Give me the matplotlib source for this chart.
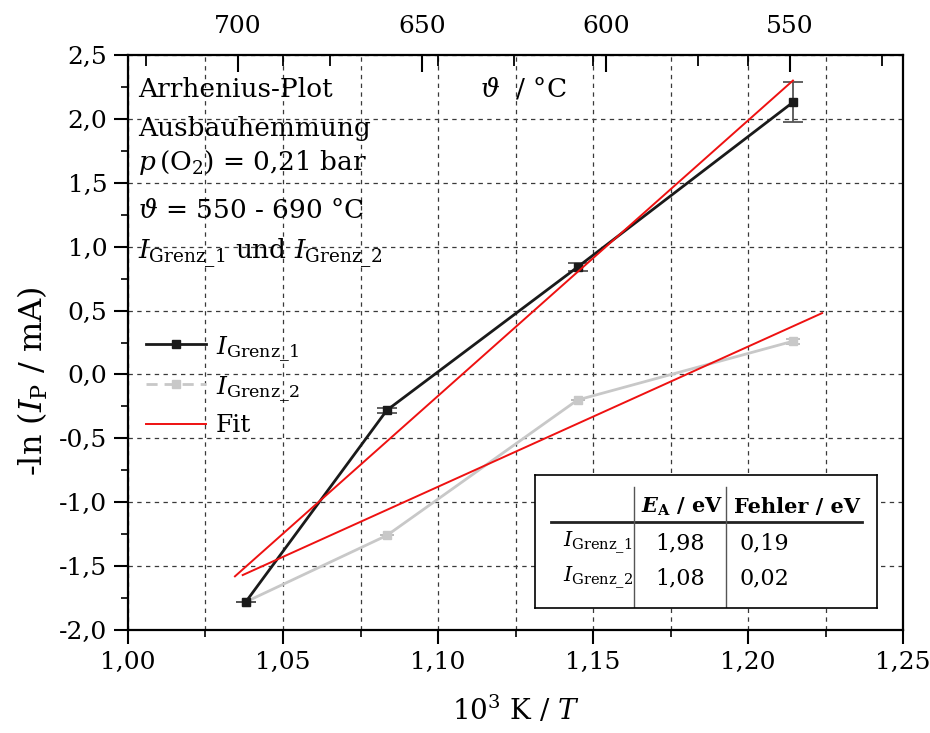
import matplotlib
matplotlib.use("Agg")
import matplotlib.pyplot as plt
from matplotlib.ticker import MultipleLocator, FuncFormatter, FixedLocator
from matplotlib.lines import Line2D

plt.rcParams['font.family'] = ['DejaVu Serif']
plt.rcParams['mathtext.fontset'] = 'dejavuserif'

# reciprocal temperature 10^3 K / T
x_vals = [1.038, 1.0835, 1.145, 1.2145]
# -ln(I_P / mA) for both limiting currents
y_grenz1 = [-1.78, -0.28, 0.84, 2.13]
y_grenz1_err = [0.0, 0.02, 0.03, 0.155]
y_grenz2 = [-1.78, -1.26, -0.20, 0.26]
y_grenz2_err = [0.0, 0.0, 0.0, 0.02]

# fitted Arrhenius lines (start / end)
fit1_x = [1.0345, 1.2145]
fit1_y = [-1.58, 2.30]
fit2_x = [1.037, 1.2239]
fit2_y = [-1.57, 0.48]

# upper axis: temperature in degC
temp_ticks = [700, 650, 600, 550]
temp_minor = [725, 675, 625, 575, 525]
temp_lim = (729.9, 519.3)

table_rows = ["Grenz\\_1", "Grenz\\_2"]
table_ea = ["1,98", "1,08"]
table_err = ["0,19", "0,02"]

fs_tick = 18
fs_text = 19

comma2 = FuncFormatter(lambda v, p: f"{v:.2f}".replace(".", ","))
comma1 = FuncFormatter(lambda v, p: f"{v:.1f}".replace(".", ","))

fig = plt.figure(figsize=(9.3, 7.33), dpi=100)
ax = fig.add_axes([128/930, 1-630/733, 775/930, 575/733])

ax.set_xlim(1.0, 1.25)
ax.set_ylim(-2.0, 2.5)
ax.xaxis.set_major_locator(MultipleLocator(0.05))
ax.xaxis.set_minor_locator(MultipleLocator(0.025))
ax.yaxis.set_major_locator(MultipleLocator(0.5))
ax.yaxis.set_minor_locator(MultipleLocator(0.25))
ax.xaxis.set_major_formatter(comma2)
ax.yaxis.set_major_formatter(comma1)

grid_kw = dict(color='#3a3a3a', linestyle=(0, (3.5, 3.5)), linewidth=0.9)
ax.grid(True, which='major', axis='both', **grid_kw)
ax.grid(True, which='minor', axis='x', **grid_kw)

for s in ax.spines.values():
    s.set_linewidth(1.6)
ax.tick_params(axis='both', which='major', labelsize=fs_tick, length=10, width=1.5,
               direction='out', pad=5)
ax.tick_params(axis='both', which='minor', length=5, width=1.2, direction='out')

# data series
ax.errorbar(x_vals, y_grenz1, yerr=y_grenz1_err, color='#1a1a1a', lw=2.0,
            marker='s', ms=6, ecolor='#555555', elinewidth=1.3, capsize=7, capthick=1.3, zorder=4)
ax.errorbar(x_vals, y_grenz2, yerr=y_grenz2_err, color='#c8c8c8', lw=2.0,
            marker='s', ms=6, ecolor='#bbbbbb', elinewidth=1.3, capsize=5, capthick=1.3, zorder=3)
ax.plot(fit1_x, fit1_y, color='#ee1111', lw=1.4, zorder=5)
ax.plot(fit2_x, fit2_y, color='#ee1111', lw=1.4, zorder=5)

ax.set_xlabel(r"10$^3$ K / $T$", fontsize=20, labelpad=15)
ax.set_ylabel(r"-ln ($I_{\mathrm{P}}$ / mA)", fontsize=23, va='center')
ax.yaxis.set_label_coords(-0.123, 0.433)

# temperature axis on top (linear in degC), ticks pointing inward
ax2 = ax.twiny()
ax2.set_xlim(*temp_lim)
x0, x1 = ax.get_xlim()
def to_temp(x):
    return temp_lim[0] + (temp_lim[1] - temp_lim[0]) * (x - x0) / (x1 - x0)
mirror = [to_temp(v) for v in (1.05, 1.10, 1.15, 1.20)]
ax2.xaxis.set_major_locator(FixedLocator(temp_ticks))
ax2.xaxis.set_minor_locator(FixedLocator(temp_minor + mirror))
ax2.tick_params(axis='x', which='major', labelsize=fs_tick, length=12, width=1.5,
                direction='in', pad=12)
ax2.tick_params(axis='x', which='minor', length=8, width=1.3, direction='in')
for s in ax2.spines.values():
    s.set_visible(False)

tx = 0.013
ax.text(0.454, 0.927, r"$\vartheta$  / °C", transform=ax.transAxes, fontsize=fs_text, va='baseline')

# annotation block
ax.text(tx, 0.927, "Arrhenius-Plot", transform=ax.transAxes, fontsize=fs_text, va='baseline')
ax.text(tx, 0.859, "Ausbauhemmung", transform=ax.transAxes, fontsize=fs_text, va='baseline')
ax.text(tx, 0.800, r"$p\,$(O$_2$) = 0,21 bar", transform=ax.transAxes, fontsize=fs_text, va='baseline')
ax.text(tx, 0.717, r"$\vartheta$ = 550 - 690 °C", transform=ax.transAxes, fontsize=fs_text, va='baseline')
ax.text(tx, 0.645, r"$I_{\mathrm{Grenz\_1}}$ und $I_{\mathrm{Grenz\_2}}$", transform=ax.transAxes,
        fontsize=fs_text, va='baseline')

# legend
handles = [
    Line2D([], [], color='#1a1a1a', lw=2.0, marker='s', ms=6),
    Line2D([], [], color='#c8c8c8', lw=2.0, ls=(0, (4, 2.5)), marker='s', ms=6),
    Line2D([], [], color='#ee1111', lw=1.4),
]
labels = [r"$I_{\mathrm{Grenz\_1}}$", r"$I_{\mathrm{Grenz\_2}}$", "Fit"]
ax.legend(handles, labels, loc='upper left', bbox_to_anchor=(0.0, 0.545), frameon=False,
          fontsize=18, handlelength=2.4, handletextpad=0.4, labelspacing=0.45,
          borderaxespad=0.3)

# result table
tab = fig.add_axes([535/930, 1-608/733, 342/930, 133/733])
tab.set_xlim(0, 342)
tab.set_ylim(133, 0)
tab.set_xticks([]); tab.set_yticks([])
for s in tab.spines.values():
    s.set_linewidth(1.2)
tab.patch.set_facecolor('white')
tab.plot([16, 327], [47, 47], color='#222222', lw=2.0)
tab.plot([99, 99], [12, 133], color='#555555', lw=1.0)
tab.plot([191, 191], [12, 133], color='#555555', lw=1.0)
tab.text(106, 32, r"$\boldsymbol{E}_{\mathbf{A}}$ / eV", fontsize=15, fontweight='bold', va='center')
tab.text(199, 32, "Fehler / eV", fontsize=15, fontweight='bold', va='center')
for i, (r, e, f) in enumerate(zip(table_rows, table_ea, table_err)):
    yy = 68 + i * 35
    tab.text(28, yy, r"$I_{\mathrm{" + r + "}}$", fontsize=15, va='center')
    tab.text(145, yy, e, fontsize=16, va='center', ha='center')
    tab.text(229, yy, f, fontsize=16, va='center', ha='center')

fig.savefig("out.png", dpi=100)
